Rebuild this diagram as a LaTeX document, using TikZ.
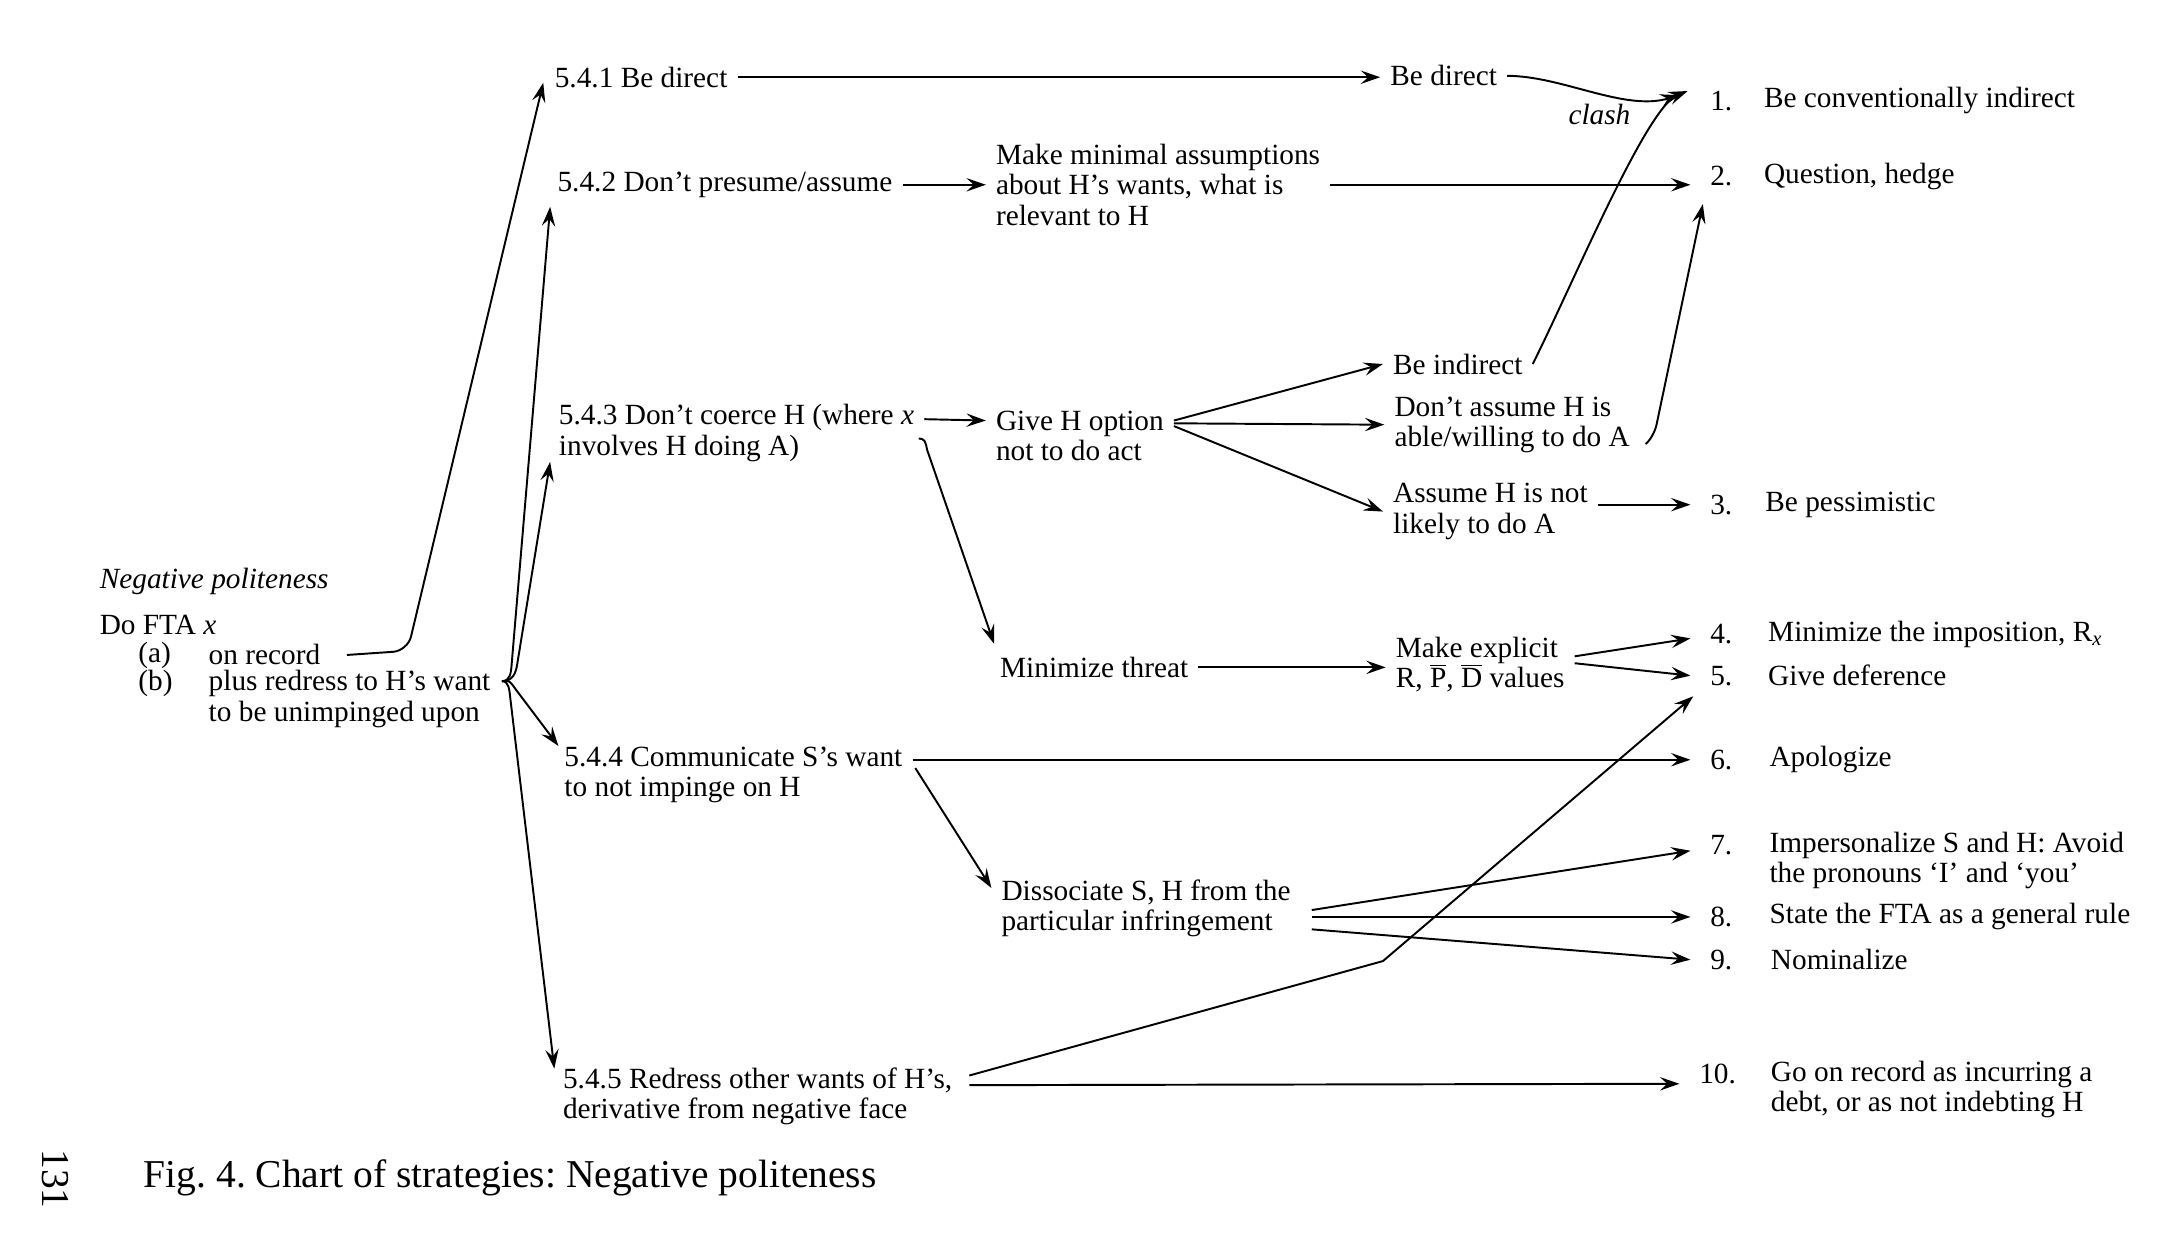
\documentclass[tikz,border=0pt]{standalone}
\usepackage{fontspec}
\setmainfont{Liberation Serif}
\usetikzlibrary{arrows.meta,calc}
\frenchspacing

\begin{document}
\begin{tikzpicture}[x=0.02cm, y=-0.02cm,
	lbl/.style={anchor=west, align=left, inner xsep=4pt, inner ysep=2pt, font=\fontsize{12.1}{12.5}\selectfont},
	num/.style={lbl, inner xsep=8pt},
	arr/.style={-{Stealth[length=8pt, width=5.5pt, inset=3pt]}, line width=0.8pt},
]
	\useasboundingbox (0,0) rectangle (1568,904);

	% Nodes
	\node[lbl] (np) at (65,422) {\textit{Negative politeness}};
	\node[lbl] (do) at (65,453) {Do FTA \textit{x}};
	\node[lbl] (la) at (93,475) {(a)};
	\node[lbl] (rec) at (144,475) {on record};
	\node[lbl] (lb) at (93,496) {(b)};
	\node[lbl] (red) at (144,507) {plus redress to H's want\\to be unimpinged upon};

	\node[lbl] (s541) at (395,56) {5.4.1 Be direct};
	\node[lbl] (s542) at (397,134) {5.4.2 Don't presume/assume};
	\node[lbl] (s543) at (398,314) {5.4.3 Don't coerce H (where \textit{x}\\involves H doing A)};
	\node[lbl] (s544) at (402,562) {5.4.4 Communicate S's want\\to not impinge on H};
	\node[lbl] (s545) at (401,795) {5.4.5 Redress other wants of H's,\\derivative from negative face};

	\node[lbl] (mma) at (715,134) {Make minimal assumptions\\about H's wants, what is\\relevant to H};
	\node[lbl] (opt) at (715,316) {Give H option\\not to do act};
	\node[lbl] (thr) at (718,484) {Minimize threat};
	\node[lbl] (dis) at (719,659) {Dissociate S, H from the\\particular infringement};

	\node[lbl] (bd) at (1001,55) {Be direct};
	\node[lbl] (bi) at (1003,264) {Be indirect};
	\node[lbl] (dah) at (1004,308) {Don't assume H is\\able/willing to do A};
	\node[lbl] (ahn) at (1003,371) {Assume H is not\\likely to do A};
	\node[lbl] (mex) at (1005,482) {Make explicit\\R, $\overline{\mbox{P}}$, $\overline{\mbox{D}}$ values};
	\node[lbl, font=\fontsize{12.1}{12.5}\selectfont\itshape, anchor=center] (clash) at (1160,83) {clash};

	\node[num] (n1) at (1226,73) {1.};
	\node[num] (n2) at (1226,128) {2.};
	\node[num] (n3) at (1226,366) {3.};
	\node[num] (n4) at (1226,460) {4.};
	\node[num] (n5) at (1226,490) {5.};
	\node[num] (n6) at (1226,551) {6.};
	\node[num] (n7) at (1226,613) {7.};
	\node[num] (n8) at (1226,665) {8.};
	\node[num] (n9) at (1226,696) {9.};
	\node[num] (n10) at (1218,779) {10.};

	\node[lbl] (i1) at (1272,73) {Be conventionally indirect};
	\node[lbl] (i2) at (1272,128) {Question, hedge};
	\node[lbl] (i3) at (1273,366) {Be pessimistic};
	\node[lbl] (i4) at (1275,460) {Minimize the imposition, R\textsubscript{\textit{x}}};
	\node[lbl] (i5) at (1275,490) {Give deference};
	\node[lbl] (i6) at (1276,551) {Apologize};
	\node[lbl] (i7) at (1276,624) {Impersonalize S and H: Avoid\\the pronouns `I' and `you'};
	\node[lbl] (i8) at (1276,665) {State the FTA as a general rule};
	\node[lbl] (i9) at (1277,696) {Nominalize};
	\node[lbl] (i10) at (1277,790) {Go on record as incurring a\\debt, or as not indebting H};

	\node[lbl, font=\fontsize{16.3}{19}\selectfont] (cap) at (97,854) {Fig. 4. Chart of strategies: Negative politeness};
	\node[font=\fontsize{16.3}{19}\selectfont, rotate=-90] (pg) at (40,855) {131};

	\coordinate (brc) at ($(red.east)+(1,-13)$);
	\coordinate (knee) at (1003,697);

	% Edges
	\draw[arr, rounded corners=6pt] ($(rec.east)+(12,0)$) -- ++(44,-3) -- ($(s541.west)+(-1,4)$);
	\draw[arr] (brc) .. controls +(6,0) and +(-0.5,6) .. ++(7,-12) -- ($(s542.west)+(2,16)$);
	\draw[arr] (brc) .. controls +(8,0) and +(-1,6) .. ++(11,-12) -- ($(s543.west)+(1,21)$);
	\draw[arr] (brc) .. controls +(6,0) and +(-5,-7) .. ++(10,6) -- ($(s544.west)+(3,-21)$);
	\draw[arr] (brc) .. controls +(5,0) and +(-0.7,-6) .. ++(6,12) -- ($(s545.west)+(1,-20)$);

	\draw[arr] (s541.east) -- (s541.east -| bd.west);
	\draw[arr] (s542) -- (mma);
	\draw[arr] (mma.east) -- (mma.east -| n2.west);
	\draw[arr] ($(s543.east)+(0,-10)$) -- ($(opt.west)+(0,-11)$);
	\draw[arr] ($(s543.east)+(-4,4)$) .. controls +(4,0) and +(-1,-6) .. ++(6,8) -- ($(thr.west)+(3,-17)$);
	\draw[arr] ($(opt.east)+(0,-11)$) -- (bi.west);
	\draw[arr] ($(opt.east)+(0,-9)$) -- (dah.west);
	\draw[arr] ($(opt.east)+(0,-7)$) -- (ahn.west);

	\draw[arr] (bd.east) .. controls +(40,0) and +(-40,12) .. ($(n1.west)+(-8,-4)$);
	\draw[arr] (bi.east) .. controls +(30,-60) and +(-30,12) .. ($(n1.west)+(-2,-7)$);
	\draw[arr] ($(dah.east)+(4,14)$) .. controls +(3,-2) and +(-1,5) .. ++(8,-14) -- ($(n2.west)+(9,20)$);
	\draw[arr] (ahn.east |- n3.west) -- (n3.west);

	\draw[arr] (thr.east) -- (thr.east -| mex.west);
	\draw[arr] ($(mex.east)+(0,-6)$) -- ($(n4.west)+(0,3)$);
	\draw[arr] ($(mex.east)+(0,-1)$) -- (n5.west);

	\draw[arr] ($(s544.east)+(0,-11)$) -- (n6.west);
	\draw[arr] ($(s544.east)+(2,-5)$) -- ($(dis.west)+(0,-15)$);
	\draw[arr] ($(dis.east)+(8,1)$) -- ($(n7.west)+(0,4)$);
	\draw[arr] ($(dis.east)+(8,6)$) -- (n8.west);
	\draw[arr] ($(dis.east)+(8,15)$) -- (n9.west);

	\draw[arr] ($(s545.east)+(5,-8)$) -- ($(n10.west)+(0,7)$);
	\draw[arr] ($(s545.east)+(5,-15)$) -- (knee) -- ($(n5.west)+(2,15)$);

\end{tikzpicture}
\end{document}
